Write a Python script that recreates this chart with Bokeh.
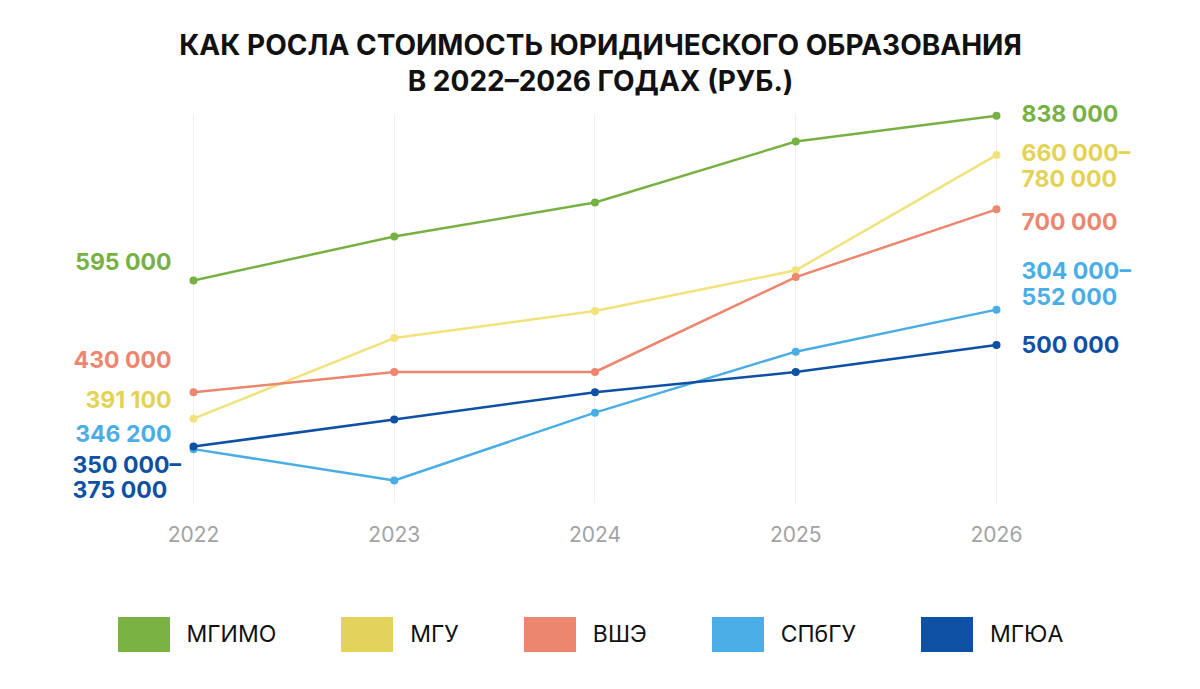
from bokeh.core.properties import value
from bokeh.embed import file_html
from bokeh.layouts import column
from bokeh.models import (ColumnDataSource, FixedTicker, Legend, LegendItem,
                          Range1d, Title)
from bokeh.plotting import figure
from bokeh.resources import INLINE

# data (rub.)
years = [2022, 2023, 2024, 2025, 2026]
universities = ["МГИМО", "МГУ", "ВШЭ", "СПбГУ", "МГЮА"]

mgimo = [595000, 660000, 710000, 800000, 838000]
mgu = [391100, 510000, 550000, 610000, 780000]
hse = [430000, 460000, 460000, 600000, 700000]
spbgu = [346200, 300000, 400000, 490000, 552000]
mgua = [350000, 390000, 430000, 460000, 500000]

# value captions at both ends of each line
start_labels = ["595 000", "391 100", "430 000", "346 200", "350 000–\n375 000"]
end_labels = ["838 000", "660 000–\n780 000", "700 000", "304 000–\n552 000", "500 000"]

title_line1 = "КАК РОСЛА СТОИМОСТЬ ЮРИДИЧЕСКОГО ОБРАЗОВАНИЯ"
title_line2 = "В 2022–2026 ГОДАХ (РУБ.)"

series = [mgimo, mgu, hse, spbgu, mgua]
line_colors = ["#78b143", "#f2e27c", "#ec866f", "#4aade5", "#0d50a4"]
text_colors = ["#78b143", "#e3d255", "#ec866f", "#4aade5", "#0d50a4"]
swatch_colors = ["#7ab343", "#e4d35a", "#ec866f", "#4aade5", "#0d50a4"]

# screen offsets of the captions (px), to keep them from overlapping
start_dy = [-19, -19, -32, -15, 31]
end_dy = [-2, 11, 13, -26, 0]

FONT = "Inter"
Y_MIN, Y_MAX = 265986, 863523

p = figure(width=1200, height=560, output_backend="svg", toolbar_location=None,
           x_range=Range1d(2021.0386, 2027.0162), y_range=Range1d(Y_MIN, Y_MAX),
           y_axis_location=None, min_border_left=0, min_border_right=0,
           min_border_top=98, min_border_bottom=57)
p.outline_line_color = None
p.ygrid.visible = False
p.xgrid.ticker = FixedTicker(ticks=years)
p.xgrid.grid_line_color = "#efefef"
if "cross_bounds" in p.xgrid[0].properties():
    p.xgrid.cross_bounds = (Y_MIN, 841392)

p.xaxis.ticker = FixedTicker(ticks=years)
p.xaxis.axis_line_color = None
p.xaxis.major_tick_line_color = None
p.xaxis.minor_tick_line_color = None
p.xaxis.major_label_standoff = 16
p.xaxis.major_label_text_font = FONT
p.xaxis.major_label_text_font_size = "21px"
p.xaxis.major_label_text_color = "#a3a3a3"

# two title lines, the first added sits next to the frame
p.add_layout(Title(text=title_line2, align="center", text_font=FONT,
                   text_font_size="28px", text_font_style="bold",
                   text_color="#111111", standoff=1), "above")
p.add_layout(Title(text=title_line1, align="center", text_font=FONT,
                   text_font_size="28px", text_font_style="bold",
                   text_color="#111111", standoff=0), "above")

for vals, color in zip(series, line_colors):
    src = ColumnDataSource(dict(x=years, y=vals))
    p.line("x", "y", source=src, line_color=color, line_width=2.5)
    p.scatter("x", "y", source=src, size=8, fill_color=color, line_color=None)

# captions at 2022: four right-aligned, the range one left-aligned
left_src = ColumnDataSource(dict(
    x=[years[0]] * 4, y=[s[0] for s in series[:4]], text=start_labels[:4],
    color=text_colors[:4], dy=start_dy[:4]))
p.text("x", "y", text="text", source=left_src, text_color="color", y_offset="dy",
       x_offset=-22, text_align="right", text_baseline="middle",
       text_font=value(FONT), text_font_style="bold", text_font_size="23px")

range_src = ColumnDataSource(dict(
    x=[years[0]], y=[series[4][0]], text=[start_labels[4]],
    color=[text_colors[4]], dy=[start_dy[4]]))
p.text("x", "y", text="text", source=range_src, text_color="color", y_offset="dy",
       x_offset=-121, text_align="left", text_baseline="middle",
       text_line_height=0.92,
       text_font=value(FONT), text_font_style="bold", text_font_size="23px")

right_src = ColumnDataSource(dict(
    x=[years[-1]] * 5, y=[s[-1] for s in series], text=end_labels,
    color=text_colors, dy=end_dy))
p.text("x", "y", text="text", source=right_src, text_color="color", y_offset="dy",
       x_offset=25, text_align="left", text_baseline="middle",
       text_line_height=0.92,
       text_font=value(FONT), text_font_style="bold", text_font_size="23px")

# legend strip under the chart; hidden areas of each series give the swatches
lg = figure(width=1200, height=129, output_backend="svg", toolbar_location=None,
            x_range=Range1d(0, 1), y_range=Range1d(0, 1),
            x_axis_location=None, y_axis_location=None,
            min_border_left=0, min_border_right=0, min_border_top=0,
            min_border_bottom=0)
lg.outline_line_color = None
lg.grid.visible = False

items = []
for name, vals, color in zip(universities, series, swatch_colors):
    r = lg.varea(x=years, y1=0, y2=vals, fill_color=color, visible=False)
    items.append(LegendItem(label=name, renderers=[r]))

legend = Legend(items=items, orientation="horizontal", location=(110.5, 33.4),
                glyph_width=65, glyph_height=44, label_standoff=11, spacing=58,
                padding=0, margin=0, border_line_color=None,
                background_fill_alpha=0, label_text_font=FONT,
                label_text_font_size="23px", label_text_color="#111111")
lg.add_layout(legend)

layout = column(p, lg, spacing=0)
open("out.html", "w").write(file_html(layout, INLINE))
